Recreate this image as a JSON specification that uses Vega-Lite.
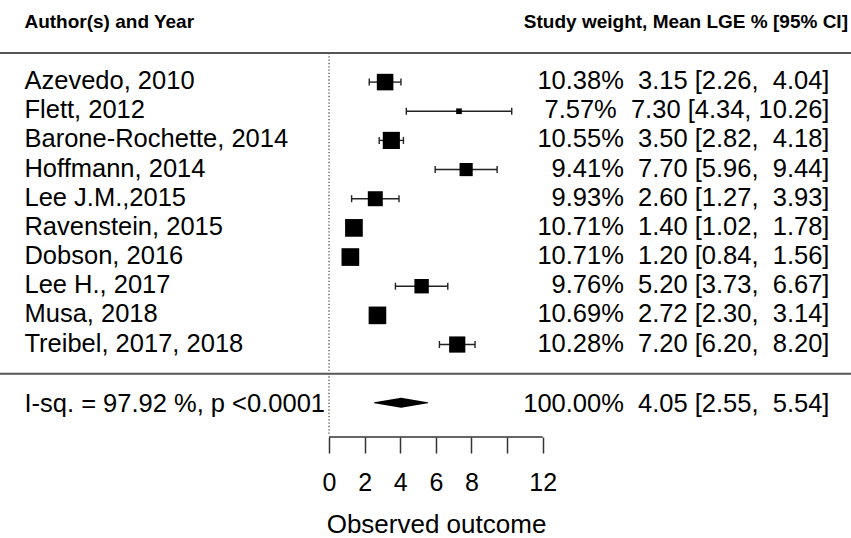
{
  "$schema": "https://vega.github.io/schema/vega-lite/v6.json",
  "width": 851,
  "height": 437,
  "autosize": {"type": "none"},
  "padding": {"left": 0, "top": 0, "right": 0, "bottom": 101},
  "background": "white",
  "config": {"view": {"stroke": null}, "font": "Liberation Sans", "text": {"font": "Liberation Sans", "color": "#000"}},
  "datasets": {
    "studies": [
      {"study": "Azevedo, 2010", "row": 10, "weight": 10.38, "est": 3.15, "lo": 2.26, "hi": 4.04, "annot": "10.38%\u00a0 3.15 [2.26,\u00a0 4.04]"},
      {"study": "Flett, 2012", "row": 9, "weight": 7.57, "est": 7.30, "lo": 4.34, "hi": 10.26, "annot": "7.57%\u00a0 7.30 [4.34, 10.26]"},
      {"study": "Barone-Rochette, 2014", "row": 8, "weight": 10.55, "est": 3.50, "lo": 2.82, "hi": 4.18, "annot": "10.55%\u00a0 3.50 [2.82,\u00a0 4.18]"},
      {"study": "Hoffmann, 2014", "row": 7, "weight": 9.41, "est": 7.70, "lo": 5.96, "hi": 9.44, "annot": "9.41%\u00a0 7.70 [5.96,\u00a0 9.44]"},
      {"study": "Lee J.M.,2015", "row": 6, "weight": 9.93, "est": 2.60, "lo": 1.27, "hi": 3.93, "annot": "9.93%\u00a0 2.60 [1.27,\u00a0 3.93]"},
      {"study": "Ravenstein, 2015", "row": 5, "weight": 10.71, "est": 1.40, "lo": 1.02, "hi": 1.78, "annot": "10.71%\u00a0 1.40 [1.02,\u00a0 1.78]"},
      {"study": "Dobson, 2016", "row": 4, "weight": 10.71, "est": 1.20, "lo": 0.84, "hi": 1.56, "annot": "10.71%\u00a0 1.20 [0.84,\u00a0 1.56]"},
      {"study": "Lee H., 2017", "row": 3, "weight": 9.76, "est": 5.20, "lo": 3.73, "hi": 6.67, "annot": "9.76%\u00a0 5.20 [3.73,\u00a0 6.67]"},
      {"study": "Musa, 2018", "row": 2, "weight": 10.69, "est": 2.72, "lo": 2.30, "hi": 3.14, "annot": "10.69%\u00a0 2.72 [2.30,\u00a0 3.14]"},
      {"study": "Treibel, 2017, 2018", "row": 1, "weight": 10.28, "est": 7.20, "lo": 6.20, "hi": 8.20, "annot": "10.28%\u00a0 7.20 [6.20,\u00a0 8.20]"}
    ],
    "summary": [
      {"label": "I-sq. = 97.92 %, p <0.0001", "row": -1, "weight": 100, "est": 4.05, "lo": 2.55, "hi": 5.54, "annot": "100.00%\u00a0 4.05 [2.55,\u00a0 5.54]"}
    ],
    "headers": [
      {"left": "Author(s) and Year", "right": "Study weight, Mean LGE % [95% CI]"}
    ]
  },
  "resolve": {"scale": {"size": "independent"}},
  "layer": [
    {
      "data": {"name": "studies"},
      "mark": {"type": "rule", "stroke": "#222", "strokeWidth": 1.4},
      "encoding": {
        "x": {"field": "lo", "type": "quantitative",
          "scale": {"domain": [-18.473, 29.31], "nice": false, "zero": false},
          "axis": {
            "values": [0, 2, 4, 6, 8, 10, 12],
            "domain": false, "grid": false, "ticks": true,
            "tickSize": 16, "tickWidth": 1.5, "tickColor": "#333",
            "labelFontSize": 25, "labelFont": "Liberation Sans", "labelColor": "#000",
            "labelPadding": 17, "labelOverlap": false, "labelFlush": false,
            "labelExpr": "datum.value == 10 ? '' : datum.label",
            "title": "Observed outcome", "titleFontSize": 26, "titleFontWeight": "normal",
            "titleFont": "Liberation Sans", "titleColor": "#000",
            "titleX": 436, "titleY": 95, "titleAlign": "center", "titleBaseline": "alphabetic"
          }},
        "x2": {"field": "hi"},
        "y": {"field": "row", "type": "quantitative", "scale": {"domain": [-2.171, 12.815], "nice": false, "zero": false}, "axis": null}
      }
    },
    {
      "data": {"name": "summary"},
      "mark": {"type": "rule", "stroke": "#333", "strokeWidth": 1.5},
      "encoding": {
        "x": {"datum": 0, "type": "quantitative", "scale": {"domain": [-18.473, 29.31], "nice": false, "zero": false}},
        "x2": {"datum": 12},
        "y": {"datum": -2.171, "type": "quantitative", "scale": {"domain": [-2.171, 12.815], "nice": false, "zero": false}, "axis": null}
      }
    },
    {
      "data": {"name": "summary"},
      "mark": {"type": "rule", "stroke": "#555", "strokeWidth": 1.3, "strokeDash": [1.3, 2]},
      "encoding": {
        "x": {"datum": 0, "type": "quantitative", "scale": {"domain": [-18.473, 29.31], "nice": false, "zero": false}},
        "y": {"datum": 11, "type": "quantitative", "scale": {"domain": [-2.171, 12.815], "nice": false, "zero": false}, "axis": null},
        "y2": {"datum": -2.1}
      }
    },
    {
      "data": {"name": "summary"},
      "mark": {"type": "rule", "stroke": "#555", "strokeWidth": 2},
      "encoding": {
        "x": {"datum": -18.473, "type": "quantitative", "scale": {"domain": [-18.473, 29.31], "nice": false, "zero": false}},
        "x2": {"datum": 29.31},
        "y": {"datum": 11, "type": "quantitative", "scale": {"domain": [-2.171, 12.815], "nice": false, "zero": false}, "axis": null}
      }
    },
    {
      "data": {"name": "summary"},
      "mark": {"type": "rule", "stroke": "#555", "strokeWidth": 2},
      "encoding": {
        "x": {"datum": -18.473, "type": "quantitative", "scale": {"domain": [-18.473, 29.31], "nice": false, "zero": false}},
        "x2": {"datum": 29.31},
        "y": {"datum": 0, "type": "quantitative", "scale": {"domain": [-2.171, 12.815], "nice": false, "zero": false}, "axis": null}
      }
    },
    {
      "data": {"name": "studies"},
      "transform": [{"fold": ["lo", "hi"], "as": ["end", "value"]}],
      "mark": {"type": "tick", "orient": "vertical", "size": 7, "thickness": 1.4, "color": "#222", "opacity": 1},
      "encoding": {
        "x": {"field": "value", "type": "quantitative", "scale": {"domain": [-18.473, 29.31], "nice": false, "zero": false}},
        "y": {"field": "row", "type": "quantitative", "scale": {"domain": [-2.171, 12.815], "nice": false, "zero": false}, "axis": null}
      }
    },
    {
      "data": {"name": "studies"},
      "mark": {"type": "point", "shape": "square", "filled": true, "color": "#000", "opacity": 1, "strokeWidth": 0},
      "encoding": {
        "x": {"field": "est", "type": "quantitative", "scale": {"domain": [-18.473, 29.31], "nice": false, "zero": false}},
        "y": {"field": "row", "type": "quantitative", "scale": {"domain": [-2.171, 12.815], "nice": false, "zero": false}, "axis": null},
        "size": {"field": "weight", "type": "quantitative", "scale": {"type": "pow", "exponent": 3, "domain": [7.57, 10.71], "range": [32, 313]}, "legend": null}
      }
    },
    {
      "data": {"name": "studies"},
      "mark": {"type": "text", "align": "left", "baseline": "alphabetic", "fontSize": 25.5, "dy": 7},
      "encoding": {
        "x": {"datum": -17.1, "type": "quantitative", "scale": {"domain": [-18.473, 29.31], "nice": false, "zero": false}},
        "y": {"field": "row", "type": "quantitative", "scale": {"domain": [-2.171, 12.815], "nice": false, "zero": false}, "axis": null},
        "text": {"field": "study"}
      }
    },
    {
      "data": {"name": "studies"},
      "mark": {"type": "text", "align": "right", "baseline": "alphabetic", "fontSize": 25.5, "dy": 7},
      "encoding": {
        "x": {"datum": 28.1, "type": "quantitative", "scale": {"domain": [-18.473, 29.31], "nice": false, "zero": false}},
        "y": {"field": "row", "type": "quantitative", "scale": {"domain": [-2.171, 12.815], "nice": false, "zero": false}, "axis": null},
        "text": {"field": "annot"}
      }
    },
    {
      "data": {"name": "summary"},
      "mark": {"type": "text", "align": "left", "baseline": "alphabetic", "fontSize": 25.5, "dy": 9.5},
      "encoding": {
        "x": {"datum": -17.1, "type": "quantitative", "scale": {"domain": [-18.473, 29.31], "nice": false, "zero": false}},
        "y": {"field": "row", "type": "quantitative", "scale": {"domain": [-2.171, 12.815], "nice": false, "zero": false}, "axis": null},
        "text": {"field": "label"}
      }
    },
    {
      "data": {"name": "summary"},
      "mark": {"type": "text", "align": "right", "baseline": "alphabetic", "fontSize": 25.5, "dy": 9.5},
      "encoding": {
        "x": {"datum": 28.1, "type": "quantitative", "scale": {"domain": [-18.473, 29.31], "nice": false, "zero": false}},
        "y": {"field": "row", "type": "quantitative", "scale": {"domain": [-2.171, 12.815], "nice": false, "zero": false}, "axis": null},
        "text": {"field": "annot"}
      }
    },
    {
      "data": {"name": "summary"},
      "transform": [{"fold": ["lo", "est", "hi"], "as": ["key", "value"]}],
      "mark": {"type": "trail", "color": "#000", "opacity": 1},
      "encoding": {
        "x": {"field": "value", "type": "quantitative", "scale": {"domain": [-18.473, 29.31], "nice": false, "zero": false}},
        "y": {"field": "row", "type": "quantitative", "scale": {"domain": [-2.171, 12.815], "nice": false, "zero": false}, "axis": null},
        "size": {"field": "key", "type": "nominal", "scale": {"type": "ordinal", "domain": ["lo", "est", "hi"], "range": [0, 10, 0]}, "legend": null}
      }
    },
    {
      "data": {"name": "headers"},
      "mark": {"type": "text", "align": "left", "baseline": "alphabetic", "fontSize": 19, "fontWeight": "bold", "dy": 4.5},
      "encoding": {
        "x": {"datum": -17.1, "type": "quantitative", "scale": {"domain": [-18.473, 29.31], "nice": false, "zero": false}},
        "y": {"datum": 12, "type": "quantitative", "scale": {"domain": [-2.171, 12.815], "nice": false, "zero": false}, "axis": null},
        "text": {"field": "left"}
      }
    },
    {
      "data": {"name": "headers"},
      "mark": {"type": "text", "align": "right", "baseline": "alphabetic", "fontSize": 19, "fontWeight": "bold", "dy": 4.5},
      "encoding": {
        "x": {"datum": 29.14, "type": "quantitative", "scale": {"domain": [-18.473, 29.31], "nice": false, "zero": false}},
        "y": {"datum": 12, "type": "quantitative", "scale": {"domain": [-2.171, 12.815], "nice": false, "zero": false}, "axis": null},
        "text": {"field": "right"}
      }
    }
  ]
}
